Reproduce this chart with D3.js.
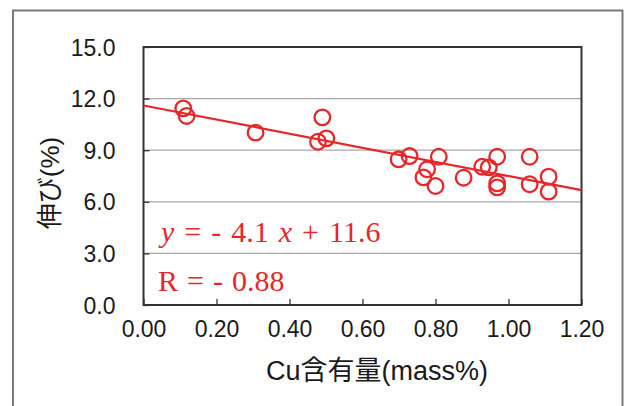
<!DOCTYPE html>
<html>
<head>
<meta charset="utf-8">
<script src="https://cdn.jsdelivr.net/npm/d3@7"></script>
<style>
  html, body { margin: 0; padding: 0; background: #fff; }
  svg { display: block; }
</style>
</head>
<body>
<svg id="chart" width="625" height="406"></svg>
<script>
// Cu content (mass%) and elongation (%) of each specimen
const cuContent = [0.109, 0.118, 0.307, 0.490, 0.478, 0.501, 0.699, 0.729, 0.809, 0.777,
                   0.767, 0.800, 0.877, 0.928, 0.946, 0.969, 0.969, 0.969, 1.058, 1.058,
                   1.110, 1.110];
const elongation = [11.43, 10.99, 10.02, 10.91, 9.49, 9.69, 8.47, 8.66, 8.62, 7.89,
                    7.42, 6.92, 7.40, 8.04, 8.00, 8.62, 7.07, 6.84, 8.62, 7.02,
                    7.46, 6.59];
const xTicks = [0, 0.2, 0.4, 0.6, 0.8, 1.0, 1.2];
const yTicks = [0, 3, 6, 9, 12, 15];
const fitSlope = -4.1;
const fitIntercept = 11.6;
const fitR = -0.88;

const svg = d3.select("#chart");
const red = "#e8262a";
const sans = "'Liberation Sans', Arial, 'Noto Sans CJK JP', sans-serif";
const serif = "'Liberation Serif', 'Times New Roman', serif";

// outer frame
svg.append("path")
  .attr("d", "M13,420 V10.5 H622.5 V420")
  .attr("fill", "none").attr("stroke", "#7a7a7a").attr("stroke-width", 2);

const plot = { left: 143.5, right: 581.5, top: 47, bottom: 305 };
const x = d3.scaleLinear().domain([0, 1.2]).range([plot.left, plot.right]);
const y = d3.scaleLinear().domain([0, 15]).range([plot.bottom, plot.top]);

// horizontal gridlines
svg.append("g")
  .selectAll("line").data(yTicks.slice(1, -1)).join("line")
  .attr("x1", plot.left).attr("x2", plot.right)
  .attr("y1", d => y(d)).attr("y2", d => y(d))
  .attr("stroke", "#a8a8a8").attr("stroke-width", 1.3);

// axes with inward ticks
const xAxis = svg.append("g").attr("transform", `translate(0,${plot.bottom})`)
  .call(d3.axisBottom(x).tickValues(xTicks).tickSize(-6).tickPadding(16)
    .tickFormat(d3.format(".2f")));
const yAxis = svg.append("g").attr("transform", `translate(${plot.left},0)`)
  .call(d3.axisLeft(y).tickValues(yTicks).tickSize(-6).tickPadding(28)
    .tickFormat(d3.format(".1f")));
[xAxis, yAxis].forEach(a => {
  a.select(".domain").remove();
  a.selectAll(".tick line").attr("stroke", "#333").attr("stroke-width", 1.3);
  a.selectAll(".tick text").attr("font-family", sans).attr("font-size", 23)
    .attr("fill", "#1a1a1a");
});
xAxis.selectAll(".tick text").attr("dy", "0.71em");
yAxis.selectAll(".tick text").attr("dy", "0.35em");

// plot frame
svg.append("rect")
  .attr("x", plot.left).attr("y", plot.top)
  .attr("width", plot.right - plot.left).attr("height", plot.bottom - plot.top)
  .attr("fill", "none").attr("stroke", "#333").attr("stroke-width", 2);

// regression line
svg.append("line")
  .attr("x1", x(0)).attr("y1", y(fitIntercept))
  .attr("x2", x(1.2)).attr("y2", y(fitIntercept + fitSlope * 1.2))
  .attr("stroke", red).attr("stroke-width", 2.2);

// specimens
svg.append("g")
  .selectAll("circle").data(cuContent.map((c, i) => [c, elongation[i]])).join("circle")
  .attr("cx", d => x(d[0])).attr("cy", d => y(d[1])).attr("r", 7.8)
  .attr("fill", "none").attr("stroke", red).attr("stroke-width", 2.3);

// regression equation and correlation
const eq = svg.append("text")
  .attr("x", 161).attr("y", 242)
  .attr("font-family", serif).attr("font-size", 30).attr("fill", red)
  .attr("word-spacing", 2.5)
  .attr("xml:space", "preserve");
eq.append("tspan").attr("font-style", "italic").text("y");
eq.append("tspan").text(` = - ${Math.abs(fitSlope).toFixed(1)} `);
eq.append("tspan").attr("font-style", "italic").text("x");
eq.append("tspan").text(` + ${fitIntercept.toFixed(1)}`);

svg.append("text")
  .attr("x", 158).attr("y", 291)
  .attr("font-family", serif).attr("font-size", 30).attr("fill", red)
  .attr("word-spacing", 1.5)
  .attr("xml:space", "preserve")
  .text(`R = - ${Math.abs(fitR).toFixed(2)}`);

// axis titles
svg.append("text")
  .attr("x", 377).attr("y", 380).attr("text-anchor", "middle")
  .attr("font-family", sans).attr("font-size", 27).attr("fill", "#1a1a1a")
  .text("Cu含有量(mass%)");

svg.append("text")
  .attr("transform", "translate(59,183) rotate(-90)").attr("text-anchor", "middle")
  .attr("font-family", sans).attr("font-size", 26).attr("fill", "#1a1a1a")
  .text("伸び(%)");
</script>
</body>
</html>
